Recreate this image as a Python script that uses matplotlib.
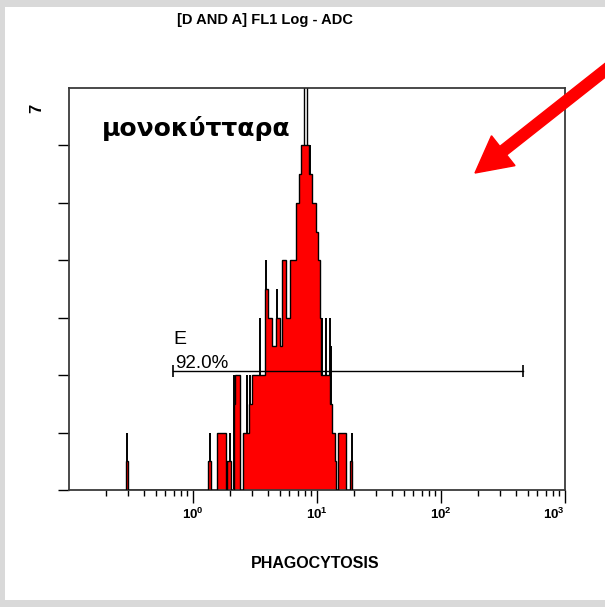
import matplotlib
matplotlib.use("Agg")
import matplotlib.pyplot as plt
from matplotlib.patches import FancyArrow, Rectangle
from matplotlib.transforms import IdentityTransform

W, H = 605, 607

title = "[D AND A] FL1 Log - ADC"
xlabel = "PHAGOCYTOSIS"
cell_label = "μονοκύτταρα"
gate_name = "E"
gate_pct = "92.0%"
ymax_label = "7"

# histogram bins: edges along FL1 (log scale) and event counts per bin
edges = [0.287, 0.298, 1.316, 1.405, 1.570, 1.839, 1.891, 2.010, 2.133, 2.193,
         2.376, 2.530, 2.845, 3.008, 3.779, 4.026, 4.361, 4.637, 4.994, 5.251,
         5.582, 6.012, 6.721, 7.132, 7.471, 8.587, 9.167, 9.744, 10.24, 10.53,
         10.83, 12.64, 13.29, 13.87, 14.31, 14.77, 17.01, 18.56, 19.26]
counts = [0.5, 0, 0.5, 0, 1, 0, 0.5, 0, 1.5, 2,
          0, 1, 1.5, 2, 3.5, 3, 2.5, 3, 2.5, 4,
          3, 4, 5, 5.5, 6, 5.5, 5, 4.5, 4, 3,
          2, 1.5, 1, 0.5, 0, 1, 0, 0.5]

# raw channel spikes, showing above the smoothed fill
spike_x = [0.2924, 1.361, 1.973, 2.153, 2.726, 2.871, 3.489, 3.865, 4.785, 5.350,
           7.266, 8.832, 11.03, 11.89, 12.69, 13.04, 19.26]
spike_h = [1, 1, 1, 2, 2, 2, 3, 4, 3.5, 4,
           5.5, 6, 3, 3, 3, 2.5, 1]

marker_x = [7.855, 8.351]   # peak cursor (double line)
gate_lo, gate_hi, gate_y = 0.694, 461.0, 2.07

x_ticks = [1, 10, 100, 1000]
x_ticklabels = [r"$\mathbf{10^{0}}$", r"$\mathbf{10^{1}}$", r"$\mathbf{10^{2}}$", r"$\mathbf{10^{3}}$"]
y_ticks = [0, 1, 2, 3, 4, 5, 6]

plt.rcParams["font.family"] = ["Liberation Sans", "DejaVu Sans"]
plt.rcParams["mathtext.fontset"] = "custom"
plt.rcParams["mathtext.bf"] = "Liberation Sans:bold"
plt.rcParams["mathtext.rm"] = "Liberation Sans"


def fpos(x, y):
    # pixel position (from top-left) -> figure fraction
    return x / W, 1 - y / H


fig = plt.figure(figsize=(W / 100, H / 100), dpi=100)
fig.patch.set_facecolor("#d9d9d9")
fig.add_artist(Rectangle(fpos(5, 600), (W - 5) / W, 593 / H,
                         transform=fig.transFigure, facecolor="white",
                         edgecolor="none", zorder=0))

ax = fig.add_axes([69 / W, 1 - 490 / H, (565 - 69) / W, (490 - 88) / H])
ax.set_facecolor("white")
ax.set_xscale("log")
ax.set_xlim(0.1, 1000)
ax.set_ylim(0, 7)

ax.vlines(spike_x, 0, spike_h, color="black", lw=1.4, zorder=1)
ax.stairs(counts, edges, fill=True, color="#ff0000", zorder=2)
ax.stairs(counts, edges, color="black", lw=1.0, zorder=3)
ax.vlines(marker_x, 6, 7, color="black", lw=1.0, zorder=4)

# gate E
ax.plot([gate_lo, gate_hi], [gate_y, gate_y], color="black", lw=1.0, zorder=5)
ax.plot([gate_lo, gate_hi], [gate_y, gate_y], ls="none", marker="|",
        ms=8, mew=1.2, color="black", zorder=5)
ax.text(gate_lo * 1.0, 2.55, gate_name, fontsize=14, va="baseline", zorder=6)
ax.text(gate_lo * 1.03, gate_y + 0.05, gate_pct, fontsize=13.5, va="baseline", zorder=6)

ax.set_xticks(x_ticks)
ax.set_xticklabels(x_ticklabels, fontsize=9.5)
ax.tick_params(axis="x", which="major", direction="out", length=9, width=1.0, pad=3)
ax.tick_params(axis="x", which="minor", direction="out", length=4.5, width=1.0)
ax.set_yticks(y_ticks)
ax.set_yticklabels([])
ax.tick_params(axis="y", which="major", direction="out", length=8, width=1.0)
ax.tick_params(axis="y", which="minor", left=False)
ax.get_xticklabels()[-1].set_horizontalalignment("right")

for s in ax.spines.values():
    s.set_color("#3a3a3a")
    s.set_linewidth(1.3)

fig.text(*fpos(265, 20), title, ha="center", va="center", fontsize=10.5,
         fontweight="bold")
fig.text(*fpos(315, 563), xlabel, ha="center", va="center", fontsize=11.5,
         fontweight="bold")
fig.text(*fpos(37, 108), ymax_label, ha="center", va="center", fontsize=12,
         fontweight="bold", rotation=90)
fig.text(*fpos(102, 136), cell_label, ha="left", va="baseline", fontsize=18,
         fontweight="bold", family=["DejaVu Sans"])

# red pointer arrow in pixel space
tip = (475, H - 173)
tail = (622, H - 57)
fig.add_artist(FancyArrow(tail[0], tail[1], tip[0] - tail[0], tip[1] - tail[1],
                          width=11, head_width=38, head_length=36,
                          length_includes_head=True, color="#ff0000",
                          transform=IdentityTransform(), zorder=10))

fig.savefig("out.png", dpi=100, facecolor=fig.get_facecolor())
